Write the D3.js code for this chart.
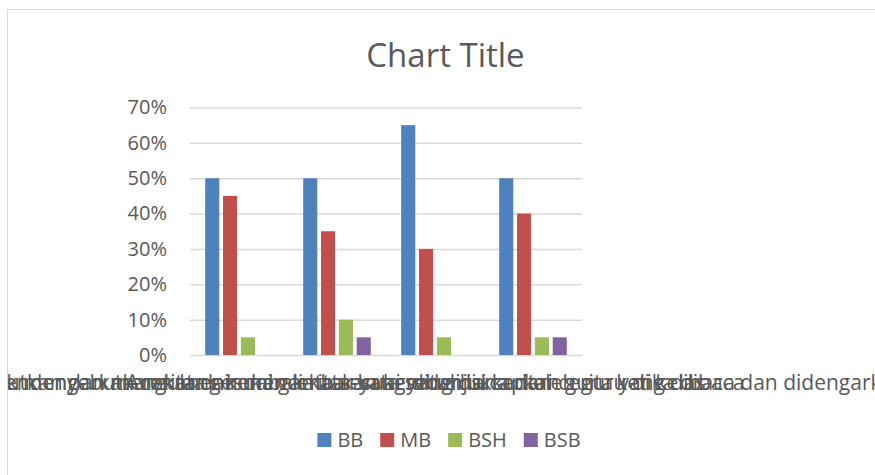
<!DOCTYPE html>
<html>
<head>
<meta charset="utf-8">
<script src="https://cdn.jsdelivr.net/npm/d3@7"></script>
<style>
  html, body { margin: 0; padding: 0; background: #ffffff; }
  svg { display: block; }
</style>
</head>
<body>
<svg id="chart" width="875" height="475"></svg>
<script>
// ---- data ----
const chartTitle = "Chart Title";
const categories = [
  "Anak mendengarkan cerita dan menceritakan kembali isi cerita",
  "Anak menyebutkan kata sesuai gambar yang ditunjukkan oleh guru di kelas",
  "Anak menirukan kata sesuai yang diucapkan guru ketika dibaca",
  "Anak mampu menyebutkan dan mengulang kembali kata-kata sederhana dari cerita yang dibaca dan didengarkan dengan baik oleh anak ketika di kelas"
];
const seriesNames = ["BB", "MB", "BSH", "BSB"];
const valuesBB  = [0.50, 0.50, 0.65, 0.50];
const valuesMB  = [0.45, 0.35, 0.30, 0.40];
const valuesBSH = [0.05, 0.10, 0.05, 0.05];
const valuesBSB = [0.00, 0.05, 0.00, 0.05];
const yTicks = [0, 0.1, 0.2, 0.3, 0.4, 0.5, 0.6, 0.7];
const seriesColors = ["#4f81bd", "#c0504d", "#9bbb59", "#8064a2"];

const seriesValues = [valuesBB, valuesMB, valuesBSH, valuesBSB];
const table = categories.map((c, i) => ({
  cat: c,
  vals: seriesNames.map((s, j) => ({ key: s, value: seriesValues[j][i] }))
}));

// ---- layout ----
const plot = { left: 190, right: 582, top: 107.5, bottom: 355 };
const textColor = "#595959";
const font = "'Open Sans', 'Liberation Sans', sans-serif";

const svg = d3.select("#chart");

// chart area border
svg.append("rect")
  .attr("x", 7.5).attr("y", 9.5)
  .attr("width", 900).attr("height", 500)
  .attr("fill", "#ffffff")
  .attr("stroke", "#d9d9d9").attr("stroke-width", 1);

svg.append("defs").append("clipPath").attr("id", "clipArea")
  .append("rect").attr("x", 8).attr("y", 10).attr("width", 900).attr("height", 500);

// title
svg.append("text")
  .attr("x", 445.5).attr("y", 67)
  .attr("text-anchor", "middle")
  .attr("font-family", font).attr("font-size", 33)
  .attr("fill", textColor)
  .text(chartTitle);

// scales
const x0 = d3.scaleBand()
  .domain(categories)
  .range([plot.left, plot.right])
  .paddingInner(0.31).paddingOuter(0.155);
const x1 = d3.scaleBand()
  .domain(seriesNames)
  .range([0, x0.bandwidth()])
  .paddingInner(0.21).paddingOuter(0);
const y = d3.scaleLinear().domain([0, 0.7]).range([plot.bottom, plot.top]);
const color = d3.scaleOrdinal().domain(seriesNames).range(seriesColors);

// gridlines
const grid = svg.append("g")
  .attr("transform", `translate(${plot.left},0)`)
  .call(d3.axisLeft(y).tickValues(yTicks).tickSize(-(plot.right - plot.left)).tickFormat(""));
grid.select(".domain").remove();
grid.selectAll(".tick line").attr("stroke", "#d9d9d9").attr("stroke-width", 1.5);

// y axis labels
const yAxis = svg.append("g")
  .attr("transform", `translate(${plot.left - 23},0)`)
  .call(d3.axisLeft(y).tickValues(yTicks).tickSize(0).tickPadding(0).tickFormat(d3.format(".0%")));
yAxis.select(".domain").remove();
yAxis.selectAll("text")
  .attr("font-family", font).attr("font-size", 20)
  .attr("fill", textColor);

// bars
const groups = svg.append("g").selectAll("g")
  .data(table).join("g")
  .attr("transform", d => `translate(${x0(d.cat)},0)`);
groups.selectAll("rect")
  .data(d => d.vals.filter(v => v.value > 0))
  .join("rect")
  .attr("x", d => x1(d.key))
  .attr("y", d => y(d.value))
  .attr("width", x1.bandwidth())
  .attr("height", d => y(0) - y(d.value))
  .attr("fill", d => color(d.key));

// x axis labels (overlapping, single line, clipped to chart area)
const xAxis = svg.append("g")
  .attr("clip-path", "url(#clipArea)")
  .attr("transform", `translate(0,${plot.bottom})`)
  .call(d3.axisBottom(x0).tickSize(0).tickPadding(0));
xAxis.select(".domain").remove();
xAxis.selectAll("text")
  .attr("dy", null)
  .attr("y", 35)
  .attr("font-family", font).attr("font-size", 21)
  .attr("fill", textColor);

// legend
const legend = svg.append("g");
const items = legend.selectAll("g").data(seriesNames).join("g");
items.append("rect")
  .attr("width", 14).attr("height", 14)
  .attr("y", 433)
  .attr("fill", d => color(d));
items.append("text")
  .attr("x", 20).attr("y", 447)
  .attr("font-family", font).attr("font-size", 20)
  .attr("fill", textColor)
  .text(d => d);
let cursor = 0;
const positions = [];
items.each(function () {
  const w = d3.select(this).select("text").node().getComputedTextLength();
  positions.push(cursor);
  cursor += 20 + w + 17;
});
const totalW = cursor - 17;
const startX = 449 - totalW / 2;
items.attr("transform", (d, i) => `translate(${startX + positions[i]},0)`);
</script>
</body>
</html>
